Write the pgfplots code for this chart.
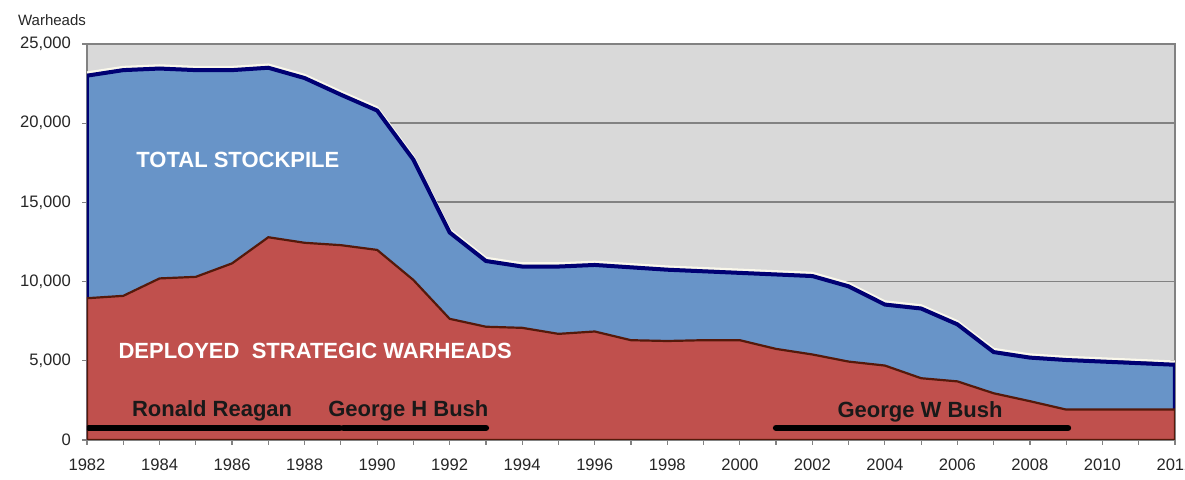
\documentclass[border=0pt]{standalone}
\usepackage{fontspec}
\setmainfont{Liberation Sans}
\usepackage{pgfplots}
\usepackage{pgfplotstable}
\pgfplotsset{compat=1.18}
\definecolor{bgg}{RGB}{217,217,217}
\definecolor{blueA}{RGB}{104,148,200}
\definecolor{redA}{RGB}{192,80,77}
\definecolor{navyL}{RGB}{0,0,115}
\definecolor{brownL}{RGB}{85,25,10}
\definecolor{gridc}{RGB}{130,130,130}
\definecolor{halo}{RGB}{250,248,235}

\pgfplotstableread{
year total deployed
1982 23000 8950
1983 23350 9100
1984 23450 10200
1985 23350 10300
1986 23350 11150
1987 23500 12800
1988 22850 12450
1989 21800 12300
1990 20800 12000
1991 17700 10100
1992 13100 7650
1993 11300 7150
1994 10950 7080
1995 10950 6700
1996 11050 6850
1997 10900 6300
1998 10750 6250
1999 10650 6300
2000 10550 6300
2001 10450 5750
2002 10350 5400
2003 9700 4950
2004 8550 4700
2005 8300 3900
2006 7300 3700
2007 5550 2950
2008 5200 2450
2009 5050 1920
2010 4950 1920
2011 4850 1920
2012 4750 1920
}\warheads

\begin{document}
\begin{tikzpicture}
\path[use as bounding box] (-43.5pt,-20pt) rectangle (549pt,220pt);
\begin{axis}[
  at={(0,0)}, anchor=south west,
  scale only axis, width=544pt, height=198pt,
  xmin=1982, xmax=2012, ymin=0, ymax=25000,
  xtick={1982,1984,...,2012},
  minor xtick={1983,1985,...,2011},
  ytick={0,5000,...,25000},
  scaled y ticks=false,
  axis background/.style={fill=bgg},
  ymajorgrids,
  major grid style={draw=gridc, line width=0.9pt},
  axis line style={draw=gridc, line width=0.8pt},
  tick align=outside, tick pos=left,
  major tick length=2.5pt, minor tick length=2.5pt,
  tick style={draw=gridc, line width=0.6pt},
  every tick label/.append style={font=\fontsize{8.3pt}{10pt}\selectfont, text=black!85},
  /pgf/number format/assume math mode=true,
  /pgf/number format/.cd, 1000 sep={,},
  /pgfplots/.cd,
  xticklabel style={/pgf/number format/1000 sep=, yshift=-3.5pt},
  yticklabel style={xshift=-2pt},
  clip=true,
]
% halo line above the total
\addplot[draw=halo, line width=1.1pt, yshift=1.6pt] table[x=year, y=total] {\warheads};
% total stockpile area
\addplot[draw=navyL, line width=2pt, fill=blueA] table[x=year, y=total] {\warheads} \closedcycle;
% deployed strategic warheads area
\addplot[draw=brownL, line width=1.1pt, fill=redA] table[x=year, y=deployed] {\warheads} \closedcycle;

% presidential terms
\addplot[draw=black, line width=3.2pt, line cap=round] coordinates {(1982.05,760) (1988.97,760)};
\addplot[draw=black, line width=3.2pt, line cap=round] coordinates {(1989.07,760) (1993.0,760)};
\addplot[draw=black, line width=3.2pt, line cap=round] coordinates {(2001.0,760) (2009.05,760)};

\node[anchor=base, text=white, font=\fontsize{11pt}{13pt}\selectfont\bfseries] at (axis cs:1986.16,17230) {TOTAL STOCKPILE};
\node[anchor=base, text=white, font=\fontsize{11pt}{13pt}\selectfont\bfseries] at (axis cs:1988.29,5170) {DEPLOYED\ \ STRATEGIC WARHEADS};
\node[anchor=base, text=black!90, font=\fontsize{11pt}{13pt}\selectfont\bfseries] at (axis cs:1985.45,1510) {Ronald Reagan};
\node[anchor=base, text=black!90, font=\fontsize{11pt}{13pt}\selectfont\bfseries] at (axis cs:1990.86,1510) {George H Bush};
\node[anchor=base, text=black!90, font=\fontsize{11pt}{13pt}\selectfont\bfseries] at (axis cs:2004.97,1450) {George W Bush};
\end{axis}
\node[font=\fontsize{7.5pt}{9pt}\selectfont, text=black!85] at (-17.5pt,210pt) {Warheads};
\end{tikzpicture}
\end{document}
